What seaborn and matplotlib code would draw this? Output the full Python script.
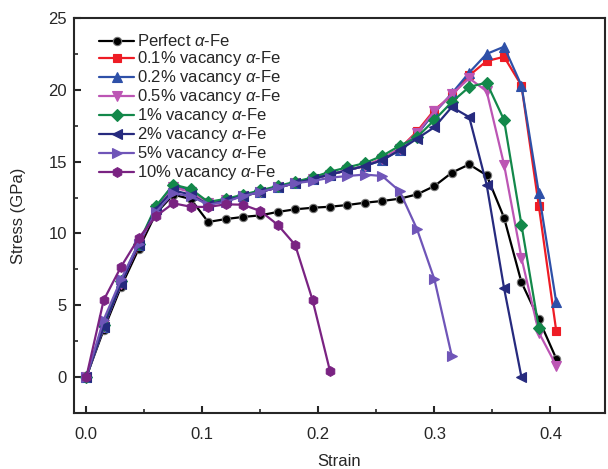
import matplotlib
matplotlib.use("Agg")
import matplotlib.pyplot as plt
import seaborn as sns
import pandas as pd

strain = [0.0, 0.015, 0.03, 0.045, 0.06, 0.075, 0.09, 0.105, 0.12, 0.135,
          0.15, 0.165, 0.18, 0.195, 0.21, 0.225, 0.24, 0.255, 0.27, 0.285,
          0.3, 0.315, 0.33, 0.345, 0.36, 0.375, 0.39, 0.405]

perfect = [0, 3.3, 6.3, 8.9, 11.4, 12.7, 12.4, 10.8, 11.0, 11.15, 11.26, 11.5,
           11.68, 11.79, 11.86, 11.98, 12.14, 12.26, 12.42, 12.72, 13.3, 14.23,
           14.81, 14.05, 11.1, 6.6, 4.02, 1.28]
vac01 = [0, 3.6, 6.6, 9.1, 11.7, 13.3, 12.9, 12.1, 12.3, 12.6, 12.9, 13.2, 13.5,
         13.8, 14.1, 14.4, 14.7, 15.2, 15.9, 17.1, 18.6, 19.6, 21.0, 22.0, 22.3,
         20.3, 11.9, 3.2]
vac02 = [0, 3.5, 6.6, 9.2, 11.8, 13.4, 13.0, 12.1, 12.3, 12.6, 12.9, 13.2, 13.5,
         13.8, 14.1, 14.4, 14.7, 15.1, 15.8, 16.9, 18.4, 19.75, 21.2, 22.5, 23.0,
         20.3, 12.8, 5.2]
vac05 = [0, 3.5, 6.5, 9.2, 11.7, 13.2, 12.9, 12.1, 12.3, 12.6, 12.9, 13.2, 13.5,
         13.8, 14.1, 14.4, 14.7, 15.2, 15.9, 17.0, 18.5, 19.7, 20.8, 19.9, 14.8,
         8.3, 3.1, 0.8]
vac1 = [0, 3.6, 6.7, 9.3, 11.9, 13.4, 13.1, 12.2, 12.4, 12.7, 13.0, 13.3, 13.6,
        13.9, 14.3, 14.6, 14.9, 15.4, 16.1, 16.7, 17.9, 19.15, 20.2, 20.5, 17.9,
        10.6, 3.4]
vac2 = [0, 3.5, 6.5, 9.2, 11.7, 13.0, 12.7, 12.0, 12.3, 12.6, 12.9, 13.2, 13.5,
        13.8, 14.1, 14.4, 14.7, 15.1, 15.8, 16.6, 17.4, 18.8, 18.1, 13.4, 6.2, 0.0]
vac5 = [0, 4.0, 6.8, 9.3, 11.5, 12.8, 12.6, 12.0, 12.2, 12.6, 12.9, 13.2, 13.5,
        13.65, 13.88, 14.0, 14.1, 14.0, 12.95, 10.3, 6.8, 1.46]
vac10 = [0, 5.36, 7.69, 9.66, 11.2, 12.1, 11.86, 11.84, 12.03, 12.0, 11.56, 10.6,
         9.2, 5.36, 0.42]

labels = [r"Perfect $\alpha$-Fe", r"0.1% vacancy $\alpha$-Fe",
          r"0.2% vacancy $\alpha$-Fe", r"0.5% vacancy $\alpha$-Fe",
          r"1% vacancy $\alpha$-Fe", r"2% vacancy $\alpha$-Fe",
          r"5% vacancy $\alpha$-Fe", r"10% vacancy $\alpha$-Fe"]
series = [perfect, vac01, vac02, vac05, vac1, vac2, vac5, vac10]
colors = ["#000000", "#EE1C25", "#2E50A8", "#BC55B4", "#13884A", "#262A7E",
          "#6F55B8", "#7A2382"]
markers = ["o", "s", "^", "v", "D", "<", ">", "h"]
msizes = [6, 6, 7, 7, 6, 7, 7, 7]

sns.set_style("ticks")
plt.rcParams["font.family"] = ["Liberation Sans", "DejaVu Sans"]
plt.rcParams["mathtext.fontset"] = "custom"
plt.rcParams["mathtext.it"] = "Liberation Sans:italic"
plt.rcParams["mathtext.rm"] = "Liberation Sans"

fig = plt.figure(figsize=(6.08, 4.69), dpi=100)
ax = fig.add_axes([74 / 608, 56 / 469, (605 - 74) / 608, (413 - 18) / 469])

for lab, ys, col, mk, ms in zip(labels, series, colors, markers, msizes):
    df = pd.DataFrame({"Strain": strain[:len(ys)], "Stress": ys})
    mec = "#777777" if mk == "o" else col
    sns.lineplot(data=df, x="Strain", y="Stress", ax=ax, color=col, marker=mk,
                 markersize=ms, markeredgecolor=mec, markeredgewidth=0.8,
                 linewidth=1.6, label=lab, sort=False)

ax.set_xlim(-0.0106, 0.447)
ax.set_ylim(-2.5, 25)
ax.set_xticks([0.0, 0.1, 0.2, 0.3, 0.4])
ax.set_xticklabels(["0.0", "0.1", "0.2", "0.3", "0.4"])
ax.set_xticks([0.05, 0.15, 0.25, 0.35], minor=True)
ax.set_yticks([0, 5, 10, 15, 20, 25])
ax.set_yticks([2.5, 7.5, 12.5, 17.5, 22.5], minor=True)
ax.tick_params(which="major", direction="in", length=5, width=1.5, labelsize=12,
               top=False, right=False)
ax.tick_params(axis="x", which="major", pad=10)
ax.tick_params(axis="y", which="major", pad=5)
ax.tick_params(which="minor", direction="in", length=3, width=1.2,
               top=False, right=False)
for s in ax.spines.values():
    s.set_linewidth(1.5)
ax.set_xlabel("Strain", fontsize=12, labelpad=9)
ax.set_ylabel("Stress (GPa)", fontsize=12, labelpad=16)

leg = ax.legend(loc="upper left", bbox_to_anchor=(0.035, 0.978), frameon=False,
                fontsize=12, handlelength=2.1, handletextpad=0.15,
                labelspacing=0.0, borderaxespad=0.0)

fig.savefig("out.png", dpi=100)
